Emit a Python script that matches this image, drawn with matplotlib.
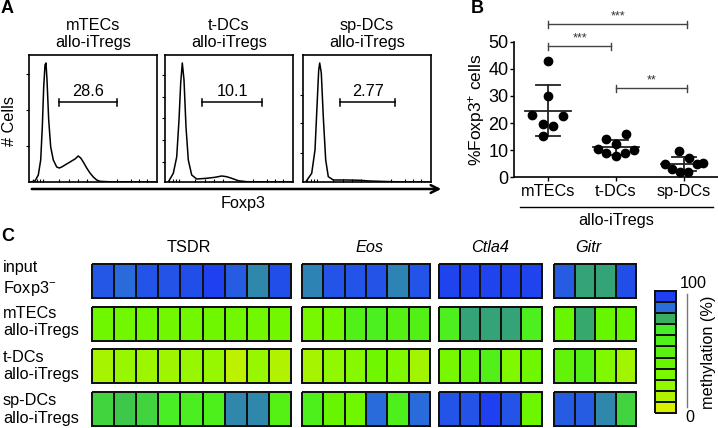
import numpy as np
import matplotlib
matplotlib.use("Agg")
import matplotlib.pyplot as plt
from matplotlib.colors import LinearSegmentedColormap, Normalize

plt.rcParams['font.family'] = ['Liberation Sans', 'DejaVu Sans']
plt.rcParams['mathtext.fontset'] = 'custom'
plt.rcParams['mathtext.rm'] = 'Liberation Sans'
plt.rcParams['mathtext.it'] = 'Liberation Sans:italic'
FS = 11.7

W, H = 718, 428

# ---------------- A: Foxp3 histograms (channel, count)
hist_titles = ["mTECs\nallo-iTregs", "t-DCs\nallo-iTregs", "sp-DCs\nallo-iTregs"]
hist_x = [
    [1, 6, 9.3, 11.7, 13.3, 14.7, 16, 17, 18, 19.7, 21.7, 24.3, 27.7, 30.3, 32.7, 36, 41, 46,
     49.3, 51.7, 54.3, 57.7, 61, 64.3, 67.7, 71, 81, 126],
    [3.3, 8.3, 11.7, 14, 15.7, 17.3, 19, 21, 23.3, 26.7, 31.7, 41.7, 50, 56.7, 61.7, 66.7,
     73.3, 81.7, 127],
    [2.7, 8.7, 12, 14.3, 15.7, 16.7, 18.3, 20.3, 22.7, 25.3, 30.3, 43.7, 57, 67, 90, 127],
]
hist_y = [
    [0, 1, 7, 22, 55, 95, 117, 119, 102, 62, 35, 22, 15, 14, 15, 17, 20, 23,
     26, 24, 20, 14, 9, 5, 2, 0.7, 0.2, 0],
    [0, 8.7, 25, 62, 99, 119, 102, 55, 22, 7, 3, 3.7, 4.7, 6, 5.3, 3.7,
     1.3, 0.3, 0],
    [0, 8.7, 32, 82, 112, 119, 109, 65, 22, 5.3, 2, 2, 1.7, 1, 0.3, 0],
]
gate_lo = [30.3, 37.3, 37]
gate_hi = [87.7, 97.3, 92.3]
gate_pct = ["28.6", "10.1", "2.77"]
hist_yticks = [[36, 72, 108], [20, 42, 64, 85, 107], [29, 59, 87]]
hist_xticks = [4, 8, 11, 14, 30, 40, 49, 58, 88, 102, 110, 118]

# ---------------- B: % Foxp3+ cells
groups = ["mTECs", "t-DCs", "sp-DCs"]
foxp3_pct = [
    [43.0, 30.0, 23.0, 22.6, 19.5, 18.9, 15.2],
    [15.8, 14.0, 12.3, 10.3, 10.1, 9.1, 7.9, 8.8],
    [9.8, 7.0, 4.9, 5.2, 4.8, 2.9, 2.1, 2.1],
]
jitter = [
    [0.0, 0.0, -0.23, 0.22, -0.08, 0.07, -0.07],
    [0.15, -0.15, 0.0, -0.26, 0.27, -0.14, 0.0, 0.13],
    [-0.07, 0.08, -0.28, 0.28, 0.19, -0.17, -0.06, 0.06],
]
comparisons = [(0, 2.05, 56.5, "***"), (0, 0.93, 48.4, "***"), (1.0, 2.05, 32.9, "**")]

# ---------------- C: methylation (%)
row_labels = ["input\nFoxp3$^{-}$", "mTECs\nallo-iTregs", "t-DCs\nallo-iTregs", "sp-DCs\nallo-iTregs"]
genes = ["TSDR", "Eos", "Ctla4", "Gitr"]
meth = {
    "TSDR": [[95, 91, 96, 96, 97, 100, 94, 86, 97],
             [36, 35, 36, 35, 35, 36, 35, 35, 35],
             [13, 19, 17, 16, 19, 19, 7, 19, 10],
             [74, 76, 74, 68, 66, 62, 86, 86, 55]],
    "Eos": [[87, 96, 96, 96, 87, 96],
            [31, 35, 60, 65, 55, 58],
            [13, 21, 25, 36, 28, 15],
            [62, 40, 36, 91, 62, 91]],
    "Ctla4": [[99, 99, 99, 99, 99],
              [64, 82, 82, 82, 64],
              [31, 45, 60, 28, 36],
              [96, 96, 100, 96, 38]],
    "Gitr": [[94, 82, 82, 97],
             [40, 81, 40, 40],
             [45, 55, 28, 15],
             [94, 94, 86, 74]],
}
scale_colors = ["#d8f000", "#b0f200", "#92f800", "#7af800", "#68f600", "#5af210",
                "#50f018", "#48ee28", "#38b060", "#2a70d8", "#1e40f0"]
scale_vals = [0, 10, 20, 30, 40, 50, 60, 70, 80, 90, 100]

cmap = LinearSegmentedColormap.from_list("meth", scale_colors)
norm = Normalize(0, 100)

fig = plt.figure(figsize=(W / 100, H / 100), dpi=100)


def px_axes(l, t, r, b, **kw):
    return fig.add_axes([l / W, 1 - b / H, (r - l) / W, (b - t) / H], **kw)


# overlay for labels / decorations in pixel coordinates
ov = px_axes(0, 0, W, H, zorder=5)
ov.set_xlim(0, W)
ov.set_ylim(H, 0)
ov.axis("off")
ov.patch.set_visible(False)

# panel A
box_left = [29, 165, 303]
for k in range(3):
    ax = px_axes(box_left[k], 55, box_left[k] + 128, 182)
    ax.plot(hist_x[k], hist_y[k], color="black", lw=1.1)
    ax.set_xlim(0, 128)
    ax.set_ylim(0, 127)
    for s in ax.spines.values():
        s.set_linewidth(1.2)
    ax.set_yticks(hist_yticks[k])
    ax.set_yticklabels([])
    ax.tick_params(axis="y", direction="out", length=2.5, width=0.8)
    ax.set_xticks(hist_xticks)
    ax.set_xticklabels([])
    ax.tick_params(axis="x", direction="in", length=2.5, width=0.8)
    gy = 80
    ax.plot([gate_lo[k], gate_hi[k]], [gy, gy], color="black", lw=1.1)
    ax.plot([gate_lo[k]] * 2, [gy - 3.5, gy + 3.5], color="black", lw=1.1)
    ax.plot([gate_hi[k]] * 2, [gy - 3.5, gy + 3.5], color="black", lw=1.1)
    ax.text((gate_lo[k] + gate_hi[k]) / 2, gy + 2.5, gate_pct[k], ha="center", va="bottom", fontsize=FS)
    ax.set_title(hist_titles[k], fontsize=FS, pad=6, linespacing=1.15)

ov.annotate("", xy=(444, 189), xytext=(29, 189),
            arrowprops=dict(arrowstyle="->", lw=1.8, color="black", mutation_scale=14))
ov.text(243, 203, "Foxp3", ha="center", va="center", fontsize=FS)
ov.text(10, 121, "# Cells", ha="center", va="center", rotation=90, fontsize=FS)
ov.text(1, 8, "A", ha="left", va="center", fontsize=13, fontweight="bold")
ov.text(471, 8, "B", ha="left", va="center", fontsize=13, fontweight="bold")
ov.text(1, 236, "C", ha="left", va="center", fontsize=13, fontweight="bold")

# panel B
bx = px_axes(514, 41.7, 718, 177.3)
for i, vals in enumerate(foxp3_pct):
    v = np.array(vals)
    xs = i + np.array(jitter[i])
    bx.scatter(xs, v, s=36, color="black", zorder=3, clip_on=False)
    m, sd = v.mean(), v.std(ddof=1)
    bx.plot([i - 0.34, i + 0.34], [m, m], color="#222222", lw=1.3)
    bx.plot([i, i], [m - sd, m + sd], color="#222222", lw=1.3)
    bx.plot([i - 0.17, i + 0.17], [m + sd, m + sd], color="#222222", lw=1.3)
    bx.plot([i - 0.17, i + 0.17], [m - sd, m - sd], color="#222222", lw=1.3)
for a, b, y, lab in comparisons:
    bx.plot([a, b], [y, y], color="#444444", lw=1.0, clip_on=False)
    bx.plot([a, a], [y - 1.3, y + 1.3], color="#444444", lw=1.0, clip_on=False)
    bx.plot([b, b], [y - 1.3, y + 1.3], color="#444444", lw=1.0, clip_on=False)
    bx.text((a + b) / 2, y + 0.6, lab, ha="center", va="bottom", fontsize=9, color="#333333")
bx.set_xlim(-0.5, 2.5)
bx.set_ylim(0, 50)
bx.spines["top"].set_visible(False)
bx.spines["right"].set_visible(False)
bx.spines["left"].set_bounds(0, 50)
for s in ("left", "bottom"):
    bx.spines[s].set_linewidth(1.2)
bx.set_yticks([0, 10, 20, 30, 40, 50])
bx.set_xticks([0, 1, 2])
bx.set_xticklabels(groups)
bx.tick_params(axis="x", labelsize=FS, length=3, width=1.0, pad=1.5)
bx.tick_params(axis="y", labelsize=13, length=3, width=1.0, pad=1)
bx.set_ylabel("%Foxp3$^{+}$ cells", fontsize=12.5, labelpad=1)
ov.plot([520, 713], [207, 207], color="black", lw=1.0)
ov.text(616, 220, "allo-iTregs", ha="center", va="center", fontsize=FS)

# panel C
gene_px = {"TSDR": (92, 291), "Eos": (302, 430), "Ctla4": (439, 542), "Gitr": (554, 636)}
title_x = {"TSDR": 189, "Eos": 370, "Ctla4": 490, "Gitr": 588}
for g in genes:
    l, r = gene_px[g]
    ax = px_axes(l, 264, r, 426)
    data = np.array(meth[g], dtype=float)
    n = data.shape[1]
    for i in range(4):
        mesh = ax.pcolormesh(np.arange(n + 1), [i, i + 0.79], data[i:i + 1], cmap=cmap, norm=norm,
                             edgecolors="#111111", linewidth=1.4)
        mesh.set_clip_on(False)
    ax.set_xlim(0, n)
    ax.set_ylim(3.79, 0)
    ax.axis("off")
    ov.text(title_x[g], 247, g, ha="center", va="center", fontsize=FS,
            style="normal" if g == "TSDR" else "italic")

row_y = [279, 322, 366, 409]
for y, lab in zip(row_y, row_labels):
    ov.text(3, y, lab, ha="left", va="center", fontsize=FS, linespacing=1.25)

# colour scale: one cell per scale step
cax = px_axes(655, 291, 676, 413)
cb = np.array(scale_vals, dtype=float).reshape(-1, 1)
m2 = cax.pcolormesh([0, 1], np.arange(len(scale_vals) + 1), cb, cmap=cmap, norm=norm,
                    edgecolors="#111111", linewidth=1.2)
m2.set_clip_on(False)
cax.set_xlim(0, 1)
cax.set_ylim(0, len(scale_vals))
cax.axis("off")
ov.plot([687, 687], [294, 407], color="#777777", lw=1.0)
ov.text(680, 283, "100", ha="left", va="center", fontsize=FS)
ov.text(685, 418, "0", ha="left", va="center", fontsize=FS)
ov.text(708, 352, "methylation (%)", ha="center", va="center", rotation=90, fontsize=FS)

fig.savefig("out.png", dpi=100)
